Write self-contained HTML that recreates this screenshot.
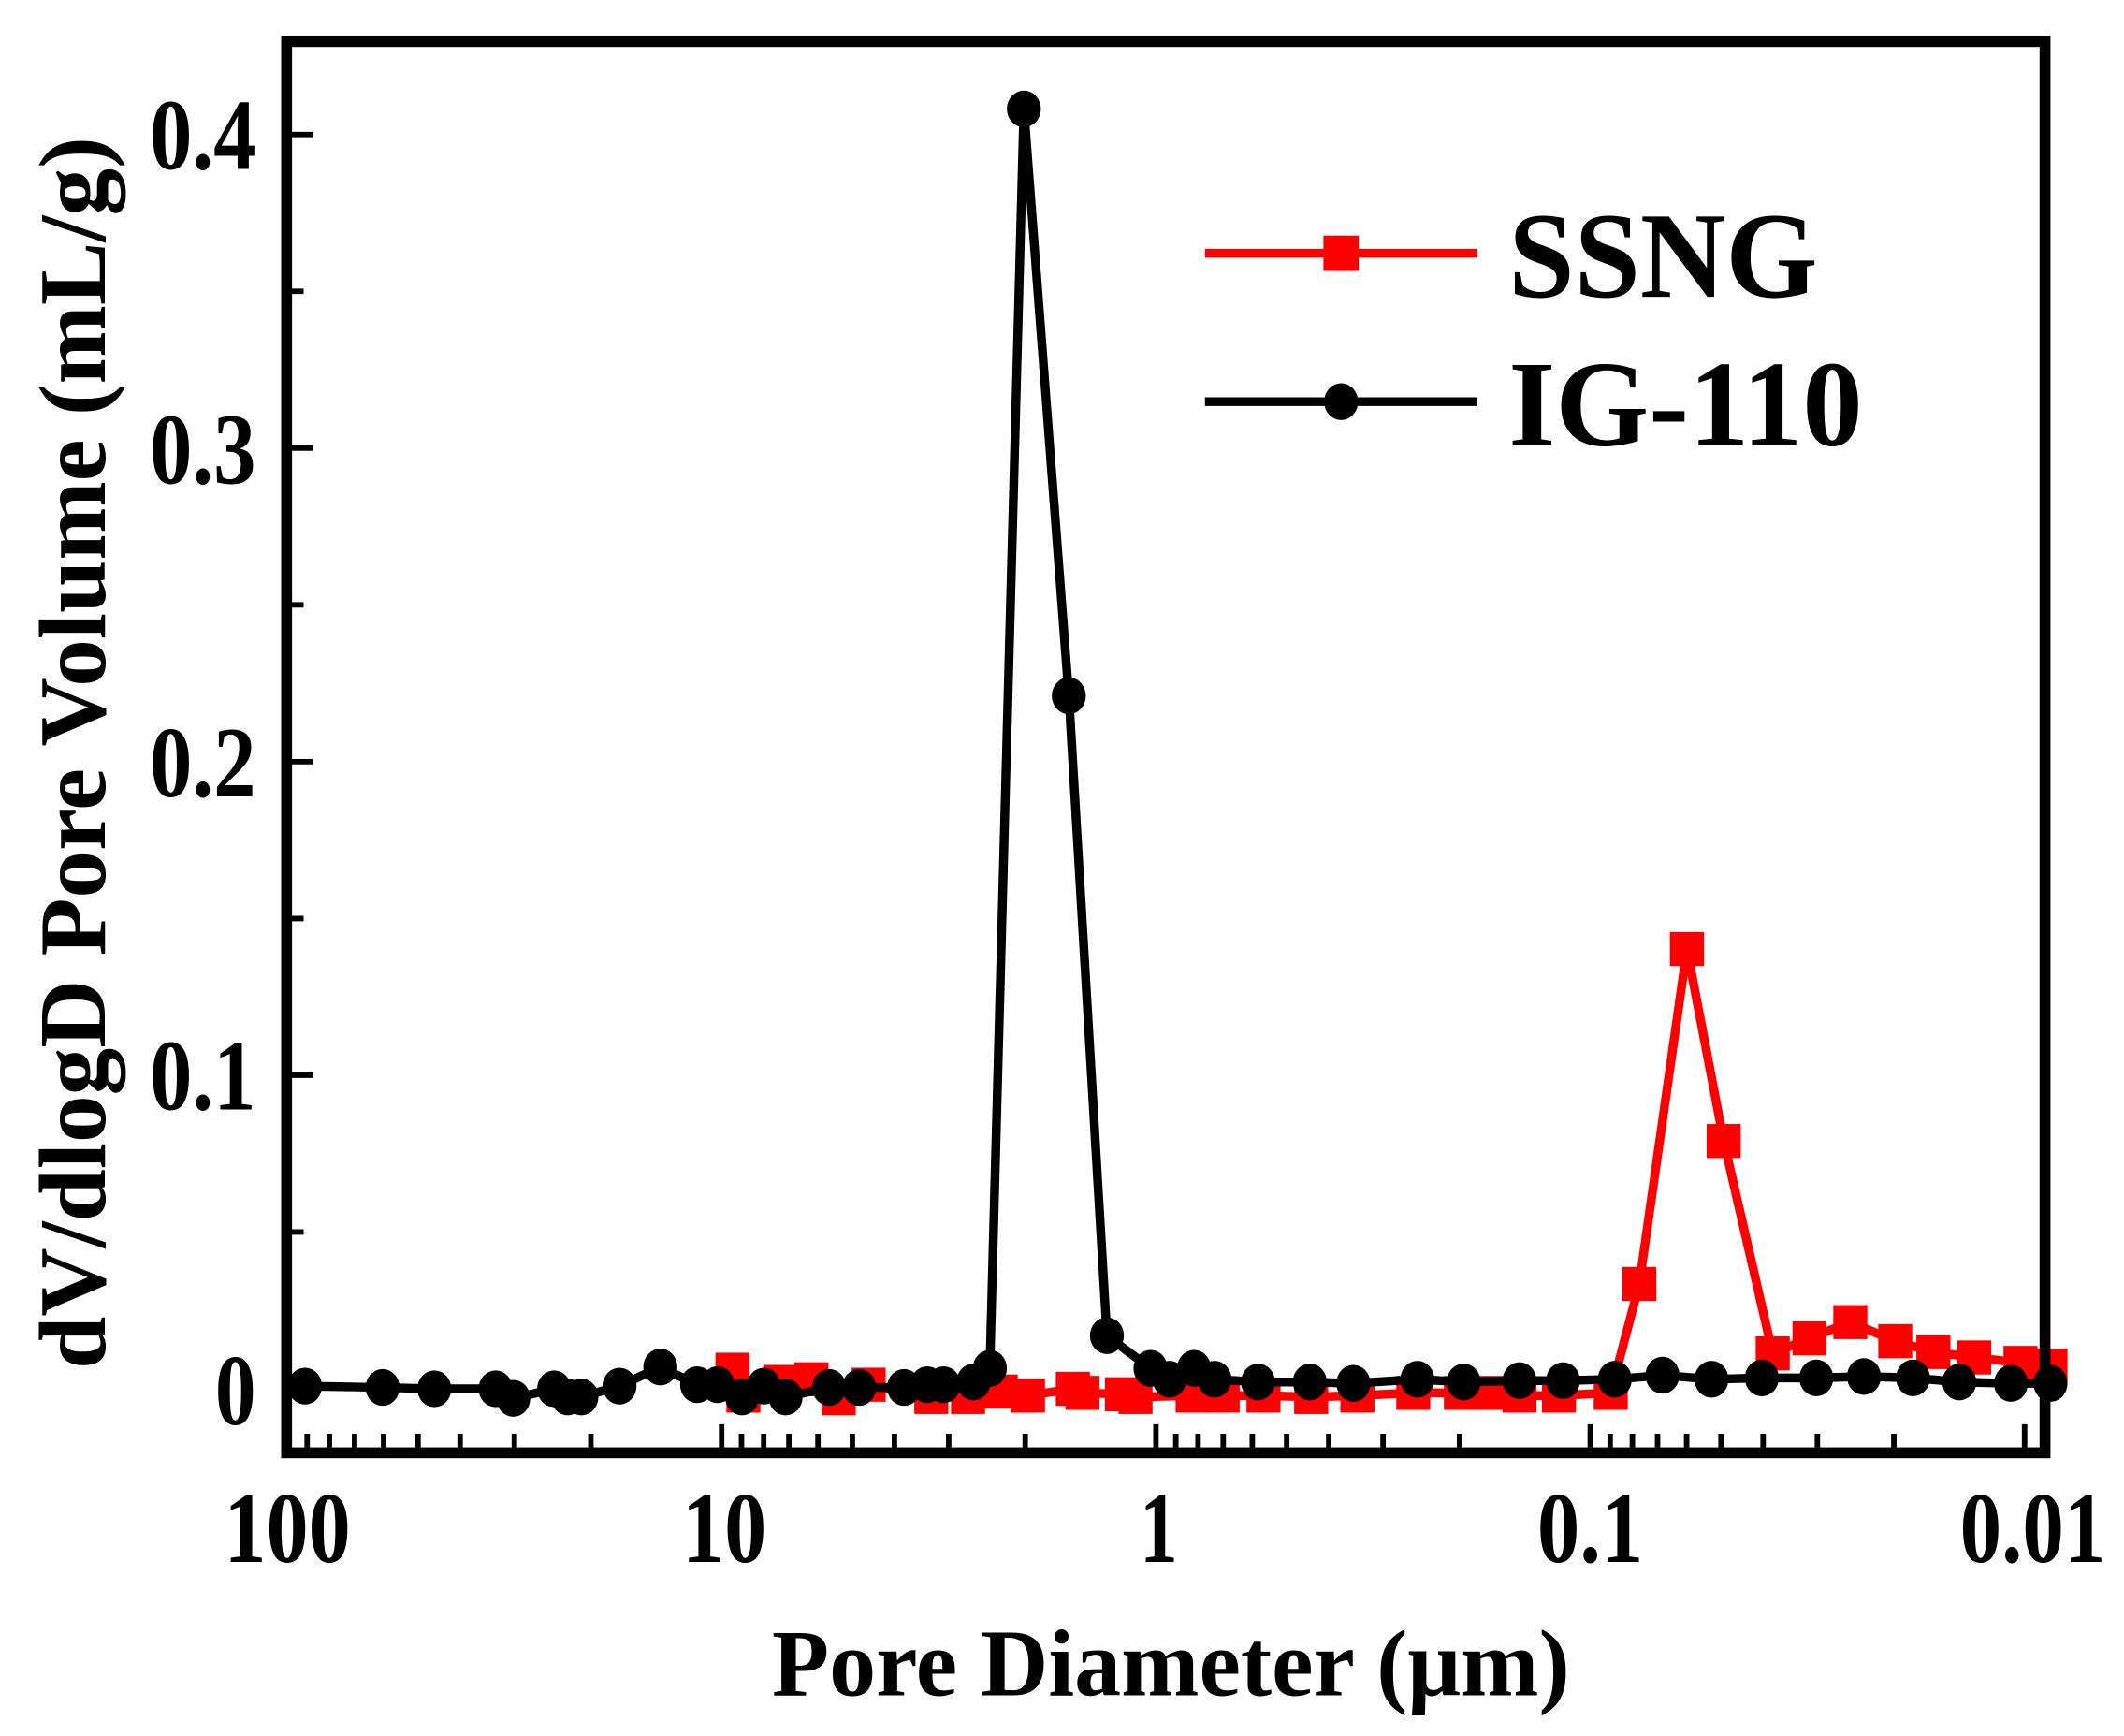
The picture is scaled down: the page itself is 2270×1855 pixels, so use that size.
<!DOCTYPE html>
<html><head><meta charset="utf-8"><style>html,body{margin:0;padding:0;background:#fff}svg{display:block}</style></head>
<body>
<svg id="s" width="2270" height="1855" viewBox="0 0 1560 1275" preserveAspectRatio="none" xmlns="http://www.w3.org/2000/svg" font-family="Liberation Serif, serif" font-weight="bold">
<rect x="0" y="0" width="1560" height="1275" fill="#fff"/>
<g id="ticks" stroke="#000" stroke-width="4" fill="none"></g>
<polyline id="ss" fill="none" stroke="#f00" stroke-width="6.5" points="538,1006 546,1025 573,1015 596,1013 616,1027 638,1017 684,1026 711,1026 735,1022 755,1025 788,1020 795,1023 824,1024 834,1026 876,1025 898,1025 928,1025 963,1026 997,1025 1038,1023 1073,1023 1093,1023 1116,1025 1145,1025 1183,1023 1204,943 1239,697 1266,838 1302,994 1329,983 1359,971 1392,985 1420,993 1450,997 1484,1001 1506,1003"/>
<g id="ssm" fill="#f00"></g>
<polyline id="ig" fill="none" stroke="#000" stroke-width="6.5" points="224,1018 281,1019 319,1020 364,1020 377,1027 407,1020 417,1026 427,1026 455,1018 485,1004 512,1017 527,1017 545,1026 561,1018 577,1026 609,1019 631,1019 664,1019 681,1017 693,1017 715,1015 727,1005 752,80 785,511 813,981 845,1005 859,1013 877,1005 892,1013 924,1015 962,1015 994,1016 1041,1013 1075,1015 1116,1014 1148,1014 1186,1013 1221,1010 1257,1013 1294,1012 1334,1012 1369,1011 1405,1012 1439,1015 1477,1016 1506,1016"/>
<g id="igm" fill="#000"></g>
<rect x="210.5" y="30.5" width="1291.5" height="1036.5" fill="none" stroke="#000" stroke-width="8"/>
<g font-size="74" text-anchor="end" lengthAdjust="spacingAndGlyphs">
<text x="188" y="124" textLength="78" lengthAdjust="spacingAndGlyphs">0.4</text>
<text x="188" y="355" textLength="78" lengthAdjust="spacingAndGlyphs">0.3</text>
<text x="188" y="585" textLength="78" lengthAdjust="spacingAndGlyphs">0.2</text>
<text x="188" y="815" textLength="78" lengthAdjust="spacingAndGlyphs">0.1</text>
<text x="188" y="1046" textLength="30" lengthAdjust="spacingAndGlyphs">0</text>
</g>
<g font-size="74" text-anchor="middle">
<text x="211" y="1147" textLength="93" lengthAdjust="spacingAndGlyphs">100</text>
<text x="532" y="1147" textLength="62" lengthAdjust="spacingAndGlyphs">10</text>
<text x="851" y="1147" textLength="28" lengthAdjust="spacingAndGlyphs">1</text>
<text x="1168" y="1147" textLength="78" lengthAdjust="spacingAndGlyphs">0.1</text>
<text x="1493" y="1147" textLength="107" lengthAdjust="spacingAndGlyphs">0.01</text>
</g>
<text x="860" y="1245" font-size="70" text-anchor="middle" textLength="586" lengthAdjust="spacingAndGlyphs">Pore Diameter (μm)</text>
<text transform="translate(77,553) rotate(-90)" font-size="70" text-anchor="middle" textLength="905" lengthAdjust="spacingAndGlyphs">dV/dlogD Pore Volume (mL/g)</text>
<line x1="885" y1="186" x2="1085" y2="186" stroke="#f00" stroke-width="6.5"/>
<rect x="972" y="173" width="26" height="26" fill="#f00"/>
<line x1="885" y1="295" x2="1085" y2="295" stroke="#000" stroke-width="6.5"/>
<ellipse cx="985" cy="295" rx="12.5" ry="13.5" fill="#000"/>
<text x="1108" y="218" font-size="90" textLength="227" lengthAdjust="spacingAndGlyphs">SSNG</text>
<text x="1108" y="327" font-size="90" textLength="260" lengthAdjust="spacingAndGlyphs">IG-110</text>
<script>
var ns="http://www.w3.org/2000/svg";
function pts(id){return document.getElementById(id).getAttribute("points").trim().split(/\s+/).map(function(p){return p.split(",").map(Number);});}
var g=document.getElementById("ssm");
pts("ss").forEach(function(p){var r=document.createElementNS(ns,"rect");r.setAttribute("x",p[0]-12.5);r.setAttribute("y",p[1]-12.5);r.setAttribute("width",25);r.setAttribute("height",25);g.appendChild(r);});
var h=document.getElementById("igm");
pts("ig").forEach(function(p){var e=document.createElementNS(ns,"ellipse");e.setAttribute("cx",p[0]);e.setAttribute("cy",p[1]);e.setAttribute("rx",12.5);e.setAttribute("ry",13.5);h.appendChild(e);});
var t=document.getElementById("ticks"),d="";
for(var i=0;i<=8;i++){var y=1020-i*0.05*2303;if(y<35)break;var L=(i%2==0)?16:9;d+="M214,"+y+"H"+(214+L);}
for(var n=-2;n<=2;n++){for(var k=1;k<=9;k++){var D=k*Math.pow(10,n);var x=211+(2-Math.log10(D))*319;if(x<210||x>1503)continue;var L=(k==1)?17:10;d+="M"+x+",1063V"+(1063-L);}}
var pa=document.createElementNS(ns,"path");pa.setAttribute("d",d);t.appendChild(pa);
</script>
</svg>
</body></html>
